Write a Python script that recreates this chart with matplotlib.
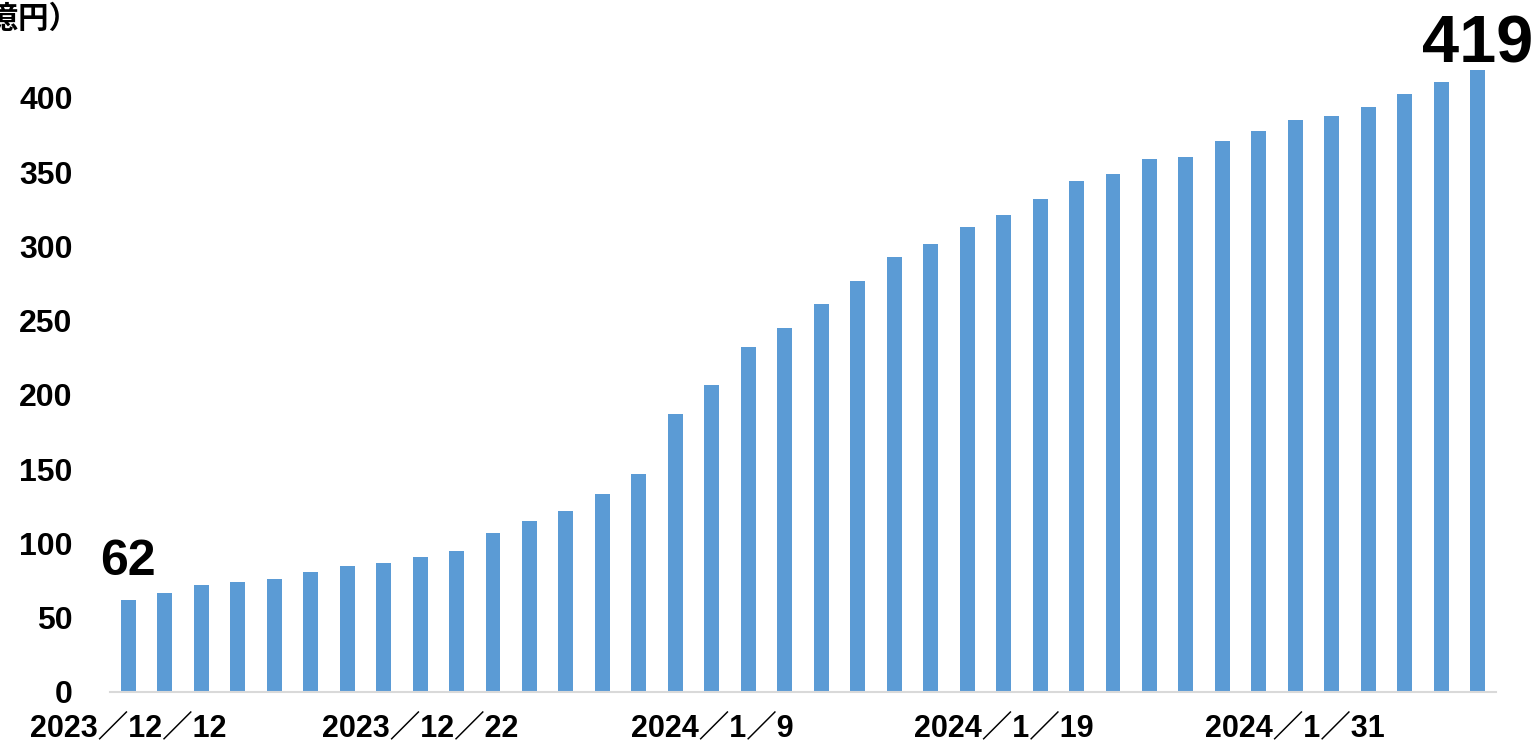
import matplotlib
matplotlib.use("Agg")
import matplotlib.pyplot as plt

dates = ["2023/12/12", "2023/12/13", "2023/12/14", "2023/12/15", "2023/12/18",
         "2023/12/19", "2023/12/20", "2023/12/21", "2023/12/22", "2023/12/25",
         "2023/12/26", "2023/12/27", "2023/12/28", "2023/12/29", "2024/1/4",
         "2024/1/5", "2024/1/9", "2024/1/10", "2024/1/11", "2024/1/12",
         "2024/1/15", "2024/1/16", "2024/1/17", "2024/1/18", "2024/1/19",
         "2024/1/22", "2024/1/23", "2024/1/24", "2024/1/25", "2024/1/26",
         "2024/1/29", "2024/1/30", "2024/1/31", "2024/2/1", "2024/2/2",
         "2024/2/5", "2024/2/6", "2024/2/7"]
values = [62, 67, 72, 74, 76, 81, 85, 87, 91, 95,
          107, 115, 122, 133, 147, 187, 207, 232, 245, 261,
          277, 293, 302, 313, 321, 332, 344, 349, 359, 360,
          371, 378, 385, 388, 394, 403, 411, 419]
shown_ticks = [0, 8, 16, 24, 32]
yticks = [0, 50, 100, 150, 200, 250, 300, 350, 400]

num_font = ['Liberation Sans', 'Noto Sans CJK JP', 'DejaVu Sans']
plt.rcParams['font.family'] = num_font

fig = plt.figure(figsize=(15.37, 7.44), dpi=100)
ax = fig.add_axes([0.0716, 0.0699, 0.9017, 0.8383])
x = list(range(len(values)))
ax.bar(x, values, width=0.41, color='#5B9BD5', zorder=2)
ax.set_xlim(-0.5, len(values) - 0.5)
ax.set_ylim(0, 420)
ax.set_yticks(yticks)
ax.set_yticklabels([str(v) for v in yticks], fontsize=23, fontweight='bold')
ax.set_xticks(shown_ticks)
ax.set_xticklabels([dates[i].replace('/', '／') for i in shown_ticks], fontsize=22, fontweight='bold')
ax.tick_params(axis='y', length=0, pad=27)
ax.tick_params(axis='x', length=0, pad=15)
for s in ['top', 'right', 'left']:
    ax.spines[s].set_visible(False)
ax.spines['bottom'].set_color('#D9D9D9')
ax.spines['bottom'].set_linewidth(1.5)

ax.text(0, values[0] + 10, str(values[0]), ha='center', va='bottom', fontsize=36, fontweight='bold', clip_on=False)
ax.text(len(values) - 1, values[-1] - 4.5, str(values[-1]), ha='center', va='bottom', fontsize=48, fontweight='bold', clip_on=False)

fig.text(0.052, 0.974, '（億円）', ha='right', va='center', fontsize=22, fontweight='bold',
         family=['Noto Sans CJK JP', 'DejaVu Sans'])

fig.savefig('out.png', dpi=100)
